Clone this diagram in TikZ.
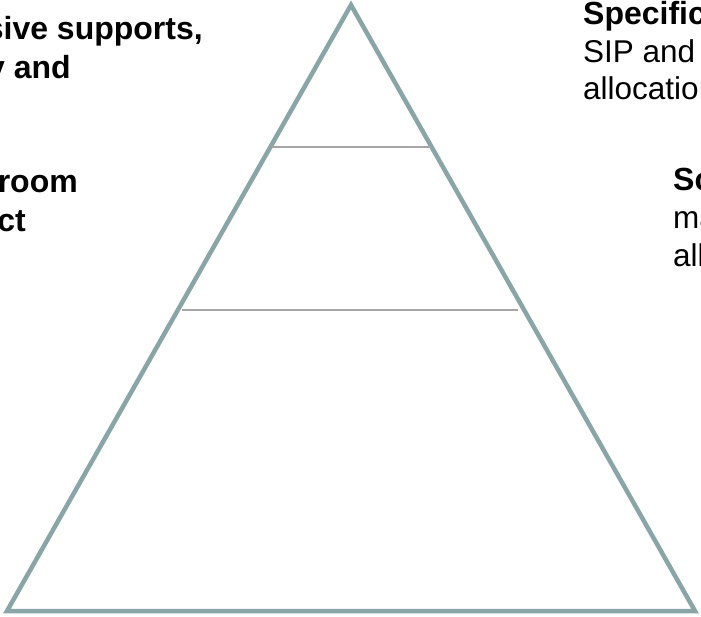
\documentclass[tikz,border=0pt]{standalone}
\usepackage{fontspec}
\setmainfont{Liberation Sans}
\definecolor{outlinecol}{RGB}{138,165,165}
\definecolor{dividercol}{RGB}{166,166,166}
\begin{document}
\begin{tikzpicture}[x=1pt,y=-1pt,
  txt/.style={inner sep=0pt,font=\fontsize{31.5}{38}\selectfont},
  boldtxt/.style={txt,font=\fontsize{32}{38}\selectfont\bfseries},
  tri/.style={draw=outlinecol,line width=4.5pt,line join=miter},
  divider/.style={draw=dividercol,line width=2pt}]
\useasboundingbox (0,0) rectangle (701,617);
\clip (0,0) rectangle (701,617);
% pyramid
\coordinate (apex) at (351,5);
\coordinate (bl) at (7,611);
\coordinate (br) at (695,611);
\draw[tri] (apex) -- (bl) -- (br) -- cycle;
\coordinate (d1l) at (272,147);
\coordinate (d1r) at (431,147);
\coordinate (d2l) at (182,310);
\coordinate (d2r) at (518,310);
\draw[divider] (d1l) -- (d1r);
\draw[divider] (d2l) -- (d2r);
% left texts
\node[boldtxt,anchor=base east] (l1) at (203,40) {sive supports,};
\node[boldtxt,anchor=base east] (l2) at (71,79) {y and};
\node[boldtxt,anchor=base east] (l3) at (78,193) {room};
\node[boldtxt,anchor=base east] (l4) at (26,232) {ct};
% right texts
\node[boldtxt,anchor=base west] (r1) at (583,25) {Specific};
\node[txt,anchor=base west] (r2) at (583,63) {SIP and};
\node[txt,anchor=base west] (r3) at (583,100) {allocation};
\node[boldtxt,anchor=base west] (s1) at (673,191) {Sc};
\node[txt,anchor=base west] (s2) at (673,229) {ma};
\node[txt,anchor=base west] (s3) at (673,267) {all};
\end{tikzpicture}
\end{document}
